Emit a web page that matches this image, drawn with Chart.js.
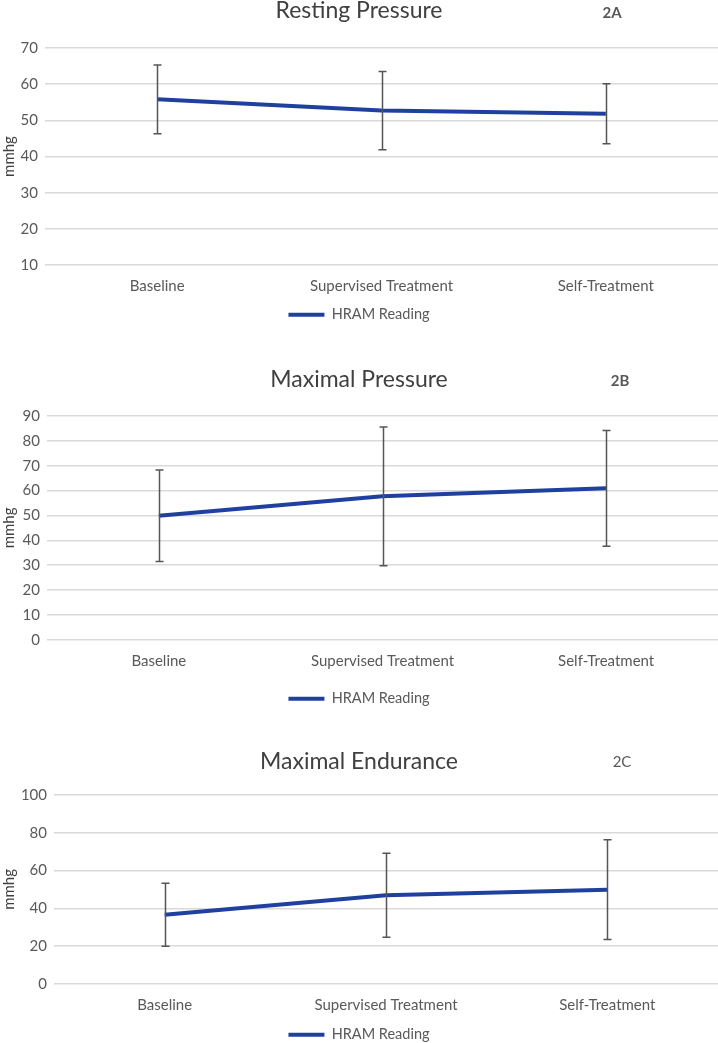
<!DOCTYPE html>
<html>
<head>
<meta charset="utf-8">
<script src="https://cdn.jsdelivr.net/npm/chart.js@4.4.1/dist/chart.umd.min.js"></script>
<style>
  body { margin: 0; background: #fff; }
  .panel { position: absolute; left: 0; width: 718px; }
</style>
</head>
<body>
<div class="panel" style="top:0;height:332px"><canvas id="chartA"></canvas></div>
<div class="panel" style="top:355px;height:361px"><canvas id="chartB"></canvas></div>
<div class="panel" style="top:740px;height:312px"><canvas id="chartC"></canvas></div>
<script>
// 세 패널 공통 카테고리
const categories = ['Baseline', 'Supervised Treatment', 'Self-Treatment'];
const seriesLabel = 'HRAM Reading';

// 2A Resting Pressure
const restingMean = [55.8, 52.7, 51.8];
const restingErr = [9.5, 10.8, 8.3];
// 2B Maximal Pressure
const maxPressMean = [49.9, 57.7, 60.9];
const maxPressErr = [18.4, 27.9, 23.3];
// 2C Maximal Endurance
const enduranceMean = [36.6, 46.9, 49.9];
const enduranceErr = [16.7, 22.2, 26.4];

const LINE = '#2040a0';
const TEXT = '#595959';
const FONT = 'Lato, "Open Sans", sans-serif';

// 에러바: 평균 ± 오차를 y 스케일로 변환해서 그림
const errorBars = {
  id: 'errorBars',
  afterDatasetsDraw(chart, args, opts) {
    const { ctx, scales: { x, y } } = chart;
    const means = chart.data.datasets[0].data;
    ctx.save();
    ctx.strokeStyle = '#555';
    ctx.lineWidth = 1.5;
    means.forEach((m, i) => {
      const px = Math.round(x.getPixelForValue(i)) + 0.5;
      const top = y.getPixelForValue(m + opts.values[i]);
      const bot = y.getPixelForValue(m - opts.values[i]);
      ctx.beginPath();
      ctx.moveTo(px, top); ctx.lineTo(px, bot);
      ctx.moveTo(px - 4, top); ctx.lineTo(px + 4, top);
      ctx.moveTo(px - 4, bot); ctx.lineTo(px + 4, bot);
      ctx.stroke();
    });
    ctx.restore();
  },
};

// 패널 라벨 (2A, 2B, 2C)
const panelTag = {
  id: 'panelTag',
  afterDraw(chart, args, opts) {
    const ctx = chart.ctx;
    ctx.save();
    ctx.fillStyle = TEXT;
    ctx.font = (opts.bold ? 'bold ' : '') + '15px ' + FONT;
    ctx.textAlign = 'center';
    ctx.textBaseline = 'middle';
    ctx.fillText(opts.text, opts.x, opts.y);
    ctx.restore();
  },
};

function makeChart(id, cfg) {
  return new Chart(document.getElementById(id), {
    type: 'line',
    data: {
      labels: categories,
      datasets: [{
        label: seriesLabel,
        data: cfg.mean,
        borderColor: LINE,
        backgroundColor: LINE,
        borderWidth: 4,
        pointRadius: 0,
        tension: 0,
      }],
    },
    options: {
      responsive: true,
      maintainAspectRatio: false,
      animation: false,
      layout: { padding: 0 },
      plugins: {
        title: {
          display: true,
          text: cfg.title,
          color: '#404040',
          font: { family: FONT, size: 23, weight: 'normal' },
          padding: cfg.titlePad,
        },
        legend: {
          position: 'bottom',
          labels: {
            usePointStyle: true,
            pointStyle: 'line',
            pointStyleWidth: 36,
            color: TEXT,
            font: { family: FONT, size: 14.5 },
            padding: 10,
          },
        },
        tooltip: { enabled: false },
        errorBars: { values: cfg.err },
        panelTag: cfg.tag,
      },
      scales: {
        x: {
          offset: true,
          grid: { display: false, drawTicks: false, tickLength: 0 },
          border: { display: false },
          ticks: { color: TEXT, font: { family: FONT, size: 15 }, padding: 12, maxRotation: 0 },
          afterFit: s => { s.height = cfg.xHeight; },
        },
        y: {
          min: cfg.min,
          max: cfg.max,
          grid: { color: '#d9d9d9', lineWidth: 1.5, drawTicks: false },
          border: { display: false },
          ticks: { stepSize: cfg.step, color: TEXT, font: { family: FONT, size: 15 }, padding: 7 },
          title: { display: true, text: 'mmhg', color: '#404040', font: { family: FONT, size: 15 }, padding: 0 },
          afterFit: s => { s.width = cfg.yWidth; },
        },
      },
    },
    plugins: [errorBars, panelTag],
  });
}

makeChart('chartA', {
  title: 'Resting Pressure', mean: restingMean, err: restingErr,
  min: 10, max: 70, step: 10,
  titlePad: { top: -3, bottom: 23.4 }, xHeight: 32.5, yWidth: 45,
  tag: { text: '2A', x: 612, y: 13, bold: true },
});
makeChart('chartB', {
  title: 'Maximal Pressure', mean: maxPressMean, err: maxPressErr,
  min: 0, max: 90, step: 10,
  titlePad: { top: 11.2, bottom: 22.2 }, xHeight: 41.7, yWidth: 47,
  tag: { text: '2B', x: 620, y: 26, bold: true },
});
makeChart('chartC', {
  title: 'Maximal Endurance', mean: enduranceMean, err: enduranceErr,
  min: 0, max: 100, step: 20,
  titlePad: { top: 7.9, bottom: 19.5 }, xHeight: 33.6, yWidth: 54,
  tag: { text: '2C', x: 622, y: 22, bold: false },
});
</script>
</body>
</html>
